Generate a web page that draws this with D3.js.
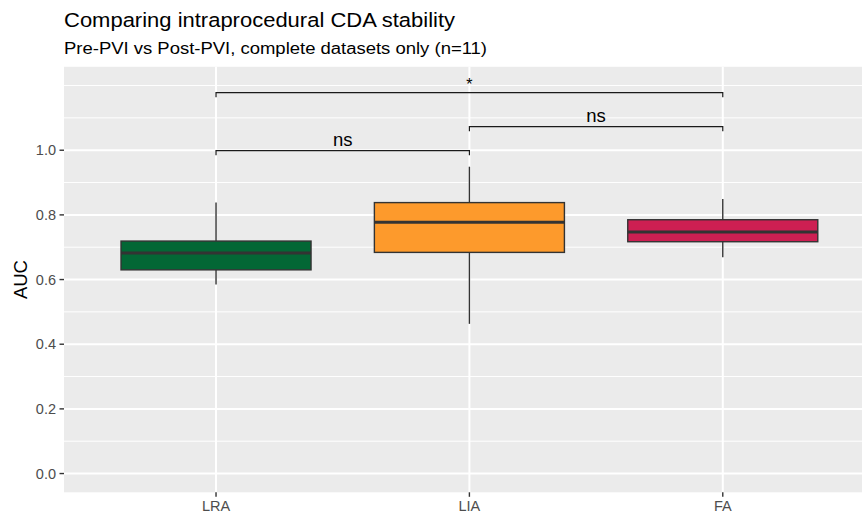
<!DOCTYPE html>
<html>
<head>
<meta charset="utf-8">
<script src="https://cdn.jsdelivr.net/npm/d3@7"></script>
<style>
  html, body { margin: 0; padding: 0; background: #ffffff; }
  svg { display: block; font-family: "Liberation Sans", Arial, Helvetica, sans-serif; }
</style>
</head>
<body>
<svg id="chart" width="862" height="513"></svg>
<script>
// ---- data ----
const categories = ["LRA", "LIA", "FA"];
const boxColors = ["#036735", "#fd9a2c", "#cd1f52"];
const whiskerLow = [0.585, 0.463, 0.669];
const q1 = [0.630, 0.684, 0.717];
const median = [0.682, 0.777, 0.747];
const q3 = [0.719, 0.838, 0.785];
const whiskerHigh = [0.838, 0.949, 0.849];

const compFrom = ["LRA", "LIA", "LRA"];
const compTo = ["LIA", "FA", "FA"];
const compY = [0.999, 1.073, 1.178];
const compLabel = ["ns", "ns", "*"];

const yTicks = [0.0, 0.2, 0.4, 0.6, 0.8, 1.0];
const yTickLabels = ["0.0", "0.2", "0.4", "0.6", "0.8", "1.0"];
const yMinor = [0.1, 0.3, 0.5, 0.7, 0.9, 1.1, 1.2];

const titleText = "Comparing intraprocedural CDA stability";
const subtitleText = "Pre-PVI vs Post-PVI, complete datasets only (n=11)";
const yTitle = "AUC";

// ---- layout ----
const panel = { left: 64, right: 874.8, top: 66.8, bottom: 492.3 };
const svg = d3.select("#chart");

const x = d3.scalePoint().domain(categories).range([panel.left, panel.right]).padding(0.6);
const y = d3.scaleLinear().domain([-0.058, 1.258]).range([panel.bottom, panel.top]);
const boxW = x.step() * 0.75;
const tipLen = 0.0142;

// panel background
svg.append("rect")
  .attr("x", panel.left).attr("y", panel.top)
  .attr("width", panel.right - panel.left).attr("height", panel.bottom - panel.top)
  .attr("fill", "#ebebeb");

// minor grid
svg.append("g").selectAll("line").data(yMinor).join("line")
  .attr("x1", panel.left).attr("x2", panel.right)
  .attr("y1", d => y(d)).attr("y2", d => y(d))
  .attr("stroke", "#ffffff").attr("stroke-width", 1);

// major grid
svg.append("g").selectAll("line").data(yTicks).join("line")
  .attr("x1", panel.left).attr("x2", panel.right)
  .attr("y1", d => y(d)).attr("y2", d => y(d))
  .attr("stroke", "#ffffff").attr("stroke-width", 2);
svg.append("g").selectAll("line").data(categories).join("line")
  .attr("x1", d => x(d)).attr("x2", d => x(d))
  .attr("y1", panel.top).attr("y2", panel.bottom)
  .attr("stroke", "#ffffff").attr("stroke-width", 2);

// boxplots
const boxes = svg.append("g").selectAll("g").data(categories).join("g");
boxes.append("line")
  .attr("x1", d => x(d)).attr("x2", d => x(d))
  .attr("y1", (d, i) => y(q3[i])).attr("y2", (d, i) => y(whiskerHigh[i]))
  .attr("stroke", "#333333").attr("stroke-width", 1.4);
boxes.append("line")
  .attr("x1", d => x(d)).attr("x2", d => x(d))
  .attr("y1", (d, i) => y(q1[i])).attr("y2", (d, i) => y(whiskerLow[i]))
  .attr("stroke", "#333333").attr("stroke-width", 1.4);
boxes.append("rect")
  .attr("x", d => x(d) - boxW / 2).attr("width", boxW)
  .attr("y", (d, i) => y(q3[i])).attr("height", (d, i) => y(q1[i]) - y(q3[i]))
  .attr("fill", (d, i) => boxColors[i])
  .attr("stroke", "#333333").attr("stroke-width", 1.4);
boxes.append("line")
  .attr("x1", d => x(d) - boxW / 2).attr("x2", d => x(d) + boxW / 2)
  .attr("y1", (d, i) => y(median[i])).attr("y2", (d, i) => y(median[i]))
  .attr("stroke", "#333333").attr("stroke-width", 3);

// significance brackets
const comps = svg.append("g").selectAll("g").data(compLabel).join("g");
comps.append("path")
  .attr("d", (d, i) => {
    const x1 = x(compFrom[i]), x2 = x(compTo[i]);
    const yb = y(compY[i]), yt = y(compY[i] - tipLen);
    return `M${x1},${yt}L${x1},${yb}L${x2},${yb}L${x2},${yt}`;
  })
  .attr("fill", "none").attr("stroke", "#1a1a1a").attr("stroke-width", 1.2);
comps.append("text")
  .attr("x", (d, i) => (x(compFrom[i]) + x(compTo[i])) / 2)
  .attr("y", (d, i) => y(compY[i]) - (d === "*" ? 3 : 4.5))
  .attr("text-anchor", "middle")
  .attr("font-size", d => d === "*" ? 16 : 18.5)
  .attr("fill", "#000000")
  .text(d => d);

// y axis
const yAxis = svg.append("g");
yAxis.selectAll("line").data(yTicks).join("line")
  .attr("x1", panel.left - 4.5).attr("x2", panel.left)
  .attr("y1", d => y(d)).attr("y2", d => y(d))
  .attr("stroke", "#333333").attr("stroke-width", 1.4);
yAxis.selectAll("text").data(yTicks).join("text")
  .attr("x", panel.left - 8).attr("y", d => y(d)).attr("dy", "0.36em")
  .attr("text-anchor", "end").attr("font-size", 14.5).attr("fill", "#4d4d4d")
  .text((d, i) => yTickLabels[i]);

// x axis
const xAxis = svg.append("g");
xAxis.selectAll("line").data(categories).join("line")
  .attr("x1", d => x(d)).attr("x2", d => x(d))
  .attr("y1", panel.bottom).attr("y2", panel.bottom + 4.5)
  .attr("stroke", "#333333").attr("stroke-width", 1.4);
xAxis.selectAll("text").data(categories).join("text")
  .attr("x", d => x(d)).attr("y", panel.bottom + 18.2)
  .attr("text-anchor", "middle").attr("font-size", 14.5).attr("fill", "#4d4d4d")
  .text(d => d);

// axis title
svg.append("text")
  .attr("transform", `translate(26.7, ${(panel.top + panel.bottom) / 2}) rotate(-90)`)
  .attr("text-anchor", "middle").attr("font-size", 18.5).attr("fill", "#000000")
  .text(yTitle);

// titles
svg.append("text").attr("x", 64).attr("y", 27)
  .attr("font-size", 20.5).attr("fill", "#000000")
  .attr("textLength", 391).attr("lengthAdjust", "spacingAndGlyphs")
  .text(titleText);
svg.append("text").attr("x", 64).attr("y", 54.3)
  .attr("font-size", 16).attr("fill", "#000000")
  .attr("textLength", 423).attr("lengthAdjust", "spacingAndGlyphs")
  .text(subtitleText);
</script>
</body>
</html>
